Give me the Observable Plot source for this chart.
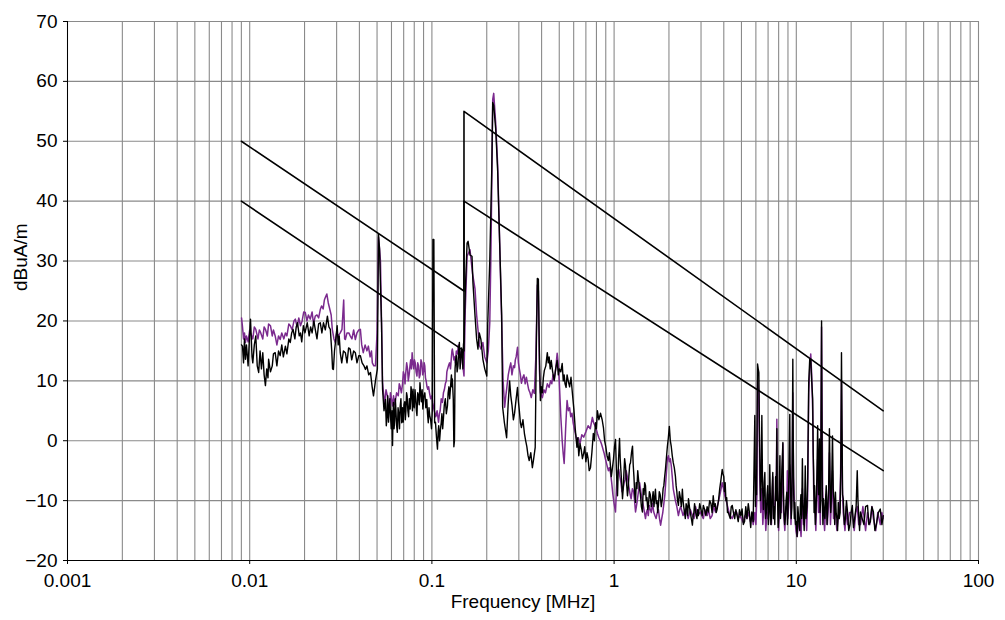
<!DOCTYPE html>
<html>
<head>
<meta charset="utf-8">
<script src="https://cdn.jsdelivr.net/npm/d3@7"></script>
<script src="https://cdn.jsdelivr.net/npm/@observablehq/plot@0.6"></script>
<style>
  html, body { margin: 0; padding: 0; background: #fff; }
  #chart { width: 1005px; height: 620px; }
</style>
</head>
<body>
<div id="chart"></div>
<script>
// Tick values
const xTicks = [0.001, 0.01, 0.1, 1, 10, 100];
const yTicks = [-20, -10, 0, 10, 20, 30, 40, 50, 60, 70];

// Limit lines [MHz, dBuA/m]
const limitUpper = [[0.009, 50], [0.15, 25], [0.15, 55], [30, 5]];
const limitLower = [[0.009, 40], [0.15, 15], [0.15, 40], [30, -5]];

// Measured trace 1 (black) [MHz, dBuA/m]
const blackTrace = [
  [0.00902,16],[0.00913,15.8],[0.00925,13],[0.00936,17],[0.00948,13.6],[0.0096,16],[0.0098,12.5],[0.0100,18],
  [0.0101,20.3],[0.0103,14],[0.0104,13],[0.0106,16],[0.0108,17.5],[0.0110,12.5],[0.0112,11.4],[0.0114,15],
  [0.0116,12],[0.0118,14.7],[0.0120,11],[0.0122,9.2],[0.0124,12],[0.0126,10.5],[0.0127,13.6],[0.0130,11.5],
  [0.0133,12.5],[0.0135,14.5],[0.0138,14.7],[0.0141,12.5],[0.0144,15],[0.0147,14.2],[0.0150,16],[0.0153,14],
  [0.0157,15.8],[0.0160,14.5],[0.0164,17],[0.0167,16.4],[0.0170,18],[0.0173,18.6],[0.0177,17],[0.0180,19],
  [0.0183,19.7],[0.0187,17.5],[0.0190,18],[0.0193,16.5],[0.0197,19.2],[0.0201,18],[0.0207,19.7],[0.0212,17.5],
  [0.0216,19],[0.0220,18],[0.0225,20],[0.0229,18.6],[0.0234,17],[0.0239,19.5],[0.0244,19.7],[0.0249,18],
  [0.0254,19.7],[0.0260,18.5],[0.0267,20.8],[0.0272,19],[0.0277,18.6],[0.0282,15],[0.0285,12],[0.0288,11.9],
  [0.0292,15],[0.0297,17],[0.0302,19.2],[0.0306,16],[0.0310,17.5],[0.0314,14.7],[0.0320,13],[0.0327,15],
  [0.0335,14.7],[0.0342,13],[0.0349,15.5],[0.0356,15.3],[0.0363,13.5],[0.0372,15],[0.0380,14.7],[0.0388,13],
  [0.0397,14.2],[0.0405,14.2],[0.0414,13],[0.0424,12.5],[0.0432,11.9],[0.0440,12.5],[0.0450,11],[0.0460,11.4],
  [0.0470,9],[0.0478,7.5],[0.0490,10],[0.0502,12],[0.0509,34.5],[0.0516,32],[0.0522,26],[0.0529,19.7],
  [0.0536,8.6],[0.0546,5],[0.0556,6.9],[0.0562,2.5],[0.0567,4],[0.0572,7.5],[0.0578,3.1],[0.0583,5.5],
  [0.0588,7],[0.0593,4],[0.0598,2],[0.0603,5],[0.0608,-0.8],[0.0611,3],[0.0615,6.4],[0.0620,2],
  [0.0625,3.5],[0.0630,7],[0.0635,5],[0.0640,2.5],[0.0646,1.4],[0.0652,5.5],[0.0658,4.5],[0.0664,2],
  [0.0670,5.8],[0.0676,7],[0.0683,3],[0.0690,5.5],[0.0696,3.1],[0.0703,6],[0.0710,6.5],[0.0715,3.5],
  [0.0720,5],[0.0726,8],[0.0731,7.5],[0.0738,5],[0.0745,4],[0.0752,7],[0.0760,5.3],[0.0768,9],
  [0.0775,8],[0.0782,5],[0.0788,8.6],[0.0794,6],[0.0800,5.5],[0.0808,8.5],[0.0815,7],[0.0822,5],
  [0.0828,4.2],[0.0836,8],[0.0845,7.5],[0.0852,6],[0.0860,9.7],[0.0868,8],[0.0875,6.5],[0.0884,8.5],
  [0.0892,5.3],[0.0903,7.5],[0.0915,8],[0.0926,5.5],[0.0937,6.9],[0.0946,4.5],[0.0955,3],[0.0964,5.5],
  [0.0973,4.2],[0.0984,3.5],[0.0995,2],[0.1005,5],[0.1013,33.6],[0.1025,33.6],[0.1035,3],[0.1046,3.1],
  [0.1060,0.5],[0.1073,-1.4],[0.1082,1.5],[0.1090,2.5],[0.1102,0],[0.1114,1.9],[0.1125,3],[0.1135,4.5],
  [0.1146,2],[0.1156,3.6],[0.1170,6],[0.1185,7],[0.1200,4.5],[0.1217,5.8],[0.1228,8],[0.1240,9],
  [0.1252,7],[0.1263,8.6],[0.1272,10],[0.1280,11],[0.1288,9],[0.1295,10.3],[0.1310,7],[0.1320,-1],
  [0.1330,0],[0.1340,12],[0.1350,13.5],[0.1362,14.2],[0.1375,11.5],[0.1390,12.5],[0.1402,15],[0.1415,16.4],
  [0.1428,12],[0.1440,13.5],[0.1455,15.5],[0.1468,14.2],[0.1480,12],[0.1490,16],[0.1500,16.9],[0.1525,25],
  [0.1560,33],[0.1580,33.3],[0.1620,31],[0.1660,30.8],[0.1680,26.4],[0.1725,20.8],[0.1760,17],[0.1790,15.3],
  [0.1820,18],[0.1858,16.9],[0.1905,13.6],[0.1950,12],[0.2001,10.8],[0.2026,19.7],[0.2078,30],[0.2130,45],
  [0.2157,56.5],[0.2184,56],[0.2240,52],[0.2296,45],[0.2355,33],[0.2415,21],[0.2445,5.6],[0.2500,3],
  [0.2571,0.5],[0.2620,6],[0.2670,10],[0.2710,7.5],[0.2750,6],[0.2800,3.5],[0.2843,4.6],[0.2900,7],
  [0.2950,8.9],[0.2985,6.5],[0.3020,5],[0.3060,3],[0.3100,2.2],[0.3160,3.5],[0.3220,1.2],[0.3270,0],
  [0.3320,-1],[0.3370,-2.5],[0.3420,-3.3],[0.3490,-2],[0.3560,-4.5],[0.3620,-3],[0.3690,-1.1],[0.374,15],
  [0.379,27.1],[0.384,27],[0.389,15],[0.394,6.7],[0.399,9],[0.404,8],[0.409,10.5],[0.414,11.7],
  [0.422,12.5],[0.430,14.7],[0.435,13],[0.440,14],[0.446,12],[0.452,13.4],[0.460,11.5],[0.469,10.1],
  [0.478,12],[0.487,13.4],[0.494,11],[0.500,12],[0.510,11.5],[0.519,12.9],[0.526,10],[0.532,11],
  [0.538,9.5],[0.545,8.9],[0.552,11],[0.560,10],[0.570,9],[0.580,10.6],[0.590,8],[0.602,5.1],
  [0.612,2],[0.625,-1.1],[0.632,0.5],[0.640,-2.5],[0.650,-0.5],[0.660,-1.5],[0.670,-3],[0.681,-2.1],
  [0.690,-1],[0.700,-3.5],[0.710,-2],[0.720,-3],[0.730,-5],[0.742,-4.5],[0.755,-2],[0.769,1.2],
  [0.780,0],[0.790,3],[0.800,2],[0.810,5],[0.825,3.5],[0.842,4.6],[0.860,3.5],[0.874,2.2],
  [0.887,0],[0.900,-1],[0.915,-2.5],[0.930,-3.3],[0.942,-2],[0.955,-4.2],[0.965,-6],[0.975,-5],
  [0.992,-3.1],[1.005,-1],[1.018,0.2],[1.030,-5],[1.044,-9.2],[1.058,-3],[1.071,0.4],[1.080,-3],
  [1.090,-5],[1.100,-7],[1.112,-9.7],[1.122,-8],[1.130,-6],[1.142,-3],[1.155,-4.2],[1.170,-7],
  [1.184,-9.2],[1.195,-8],[1.205,-6],[1.218,-4],[1.230,-3.7],[1.246,-2],[1.262,-0.9],[1.273,-4],
  [1.285,-6],[1.298,-9],[1.311,-10.3],[1.322,-7],[1.335,-8],[1.348,-5],[1.361,-6.4],[1.378,-8],
  [1.395,-9],[1.412,-11],[1.430,-11.9],[1.445,-8],[1.460,-9],[1.472,-7],[1.487,-7.5],[1.500,-10],
  [1.515,-9.5],[1.530,-11.5],[1.544,-10.8],[1.562,-8.5],[1.580,-9],[1.600,-11],[1.622,-9.7],[1.638,-8.5],
  [1.655,-11],[1.670,-9.5],[1.686,-8.1],[1.703,-10.5],[1.720,-10],[1.735,-12],[1.751,-10.8],[1.770,-8.5],
  [1.790,-9],[1.815,-11],[1.840,-9.7],[1.858,-8],[1.875,-7.5],[1.895,-6],[1.913,-4.8],[1.935,-3],
  [1.960,-1],[1.985,0.5],[2.010,2.4],[2.035,0],[2.060,-1],[2.085,-2.5],[2.113,-3.7],[2.140,-4.5],
  [2.170,-5.9],[2.190,-7.5],[2.210,-8.5],[2.230,-10],[2.254,-10.8],[2.280,-8.5],[2.310,-9.5],[2.340,-11],
  [2.370,-8.1],[2.390,-10],[2.410,-11],[2.435,-12],[2.460,-13],[2.485,-10.5],[2.510,-11],[2.535,-12.5],
  [2.560,-9.7],[2.590,-11],[2.620,-12],[2.655,-13],[2.690,-14.1],[2.715,-12.5],[2.740,-12],[2.765,-10.5],
  [2.790,-11.4],[2.820,-12.5],[2.850,-13],[2.875,-11.5],[2.900,-12.5],[2.950,-10.5],[3.000,-11.5],[3.045,-12.5],
  [3.090,-10.8],[3.140,-11.5],[3.190,-12.5],[3.240,-11],[3.290,-11.9],[3.345,-10],[3.400,-10.5],[3.450,-12],
  [3.500,-9.2],[3.545,-11],[3.590,-10.5],[3.635,-12],[3.680,-11.4],[3.740,-10],[3.800,-8],[3.860,-6.5],
  [3.920,-4.8],[3.960,-5.5],[4.000,-6],[4.035,-8.5],[4.070,-7],[4.110,-10],[4.150,-9.5],[4.190,-12],
  [4.230,-11.9],[4.285,-12.5],[4.340,-13],[4.395,-11],[4.450,-10.8],[4.520,-12],[4.590,-13],[4.660,-11.5],
  [4.730,-12.5],[4.800,-13.5],[4.880,-11.5],[4.960,-12.5],[5.040,-11.4],[5.120,-14],[5.200,-13.5],[5.280,-11],
  [5.360,-13],[5.450,-10.5],[5.530,-12],[5.620,-14.5],[5.700,-11.9],[5.800,-13.5],[5.870,-3],[5.920,4.2],
  [5.970,-11],[6.010,-6],[6.050,-9],[6.100,5],[6.130,12.8],[6.180,12],[6.230,11.4],[6.270,3],
  [6.300,-2],[6.360,-10],[6.420,-6],[6.470,4.2],[6.530,-8],[6.600,-11.5],[6.660,-7],[6.720,-5.3],
  [6.780,-13],[6.850,-12],[6.910,-9],[6.970,-7.5],[7.030,-14],[7.100,-12],[7.150,-4],[7.200,-9],
  [7.250,-14],[7.300,-13],[7.370,-8],[7.430,-5.3],[7.490,-13],[7.550,-11],[7.620,-14],[7.700,-6],
  [7.760,-10],[7.820,2],[7.860,-8],[7.900,-10],[7.950,-14.5],[8.000,-13],[8.060,-9],[8.130,-2.5],
  [8.190,-13],[8.250,-11],[8.330,-5],[8.440,-0.3],[8.500,-9],[8.560,-12],[8.630,-14],[8.700,-13],
  [8.790,-10],[8.870,-8.6],[8.940,-14],[9.000,-12],[9.100,-6],[9.210,4.4],[9.250,-4],[9.300,-8],
  [9.380,-13],[9.450,-11],[9.520,2],[9.570,13.6],[9.620,0],[9.680,-9],[9.750,-13],[9.810,-10.3],
  [9.900,-14],[10.0,-13.5],[10.10,-16],[10.20,-11],[10.28,-12.5],[10.36,-14],[10.45,-15],[10.52,-11],
  [10.60,-9],[10.70,-13],[10.80,-3],[10.87,-10],[10.95,-12],[11.05,-15],[11.20,-4.2],[11.30,-13],
  [11.45,-11],[11.55,-6],[11.70,9.7],[11.85,13.6],[12.00,13.6],[12.15,10],[12.30,7],[12.38,-2],
  [12.45,-5],[12.52,-12],[12.60,-7.5],[12.72,-14],[12.85,-11],[12.97,-6],[13.10,2.5],[13.18,-6],
  [13.25,-9],[13.33,-4],[13.40,0.3],[13.50,-12],[13.60,-10],[13.70,8],[13.76,20],[13.82,5],
  [13.90,-10],[14.00,-14],[14.10,-9.7],[14.22,-12],[14.35,-13],[14.47,-10],[14.60,-7.5],[14.75,-14],
  [14.90,-11],[15.05,-8],[15.20,2],[15.32,-6],[15.45,-12],[15.60,-9],[15.80,0.8],[15.95,-8],
  [16.10,-10],[16.25,-14],[16.40,-8.6],[16.55,-12],[16.70,-13],[16.85,-15],[17.00,-10.3],[17.20,-13],
  [17.40,-12],[17.55,-4],[17.70,14.7],[17.82,2],[17.95,-9],[18.10,-9.7],[18.35,-14],[18.60,-13],
  [18.85,-10],[19.10,-11.9],[19.40,-15],[19.70,-14],[20.00,-12],[20.30,-10.8],[20.60,-14.5],[20.90,-13],
  [21.30,-11],[21.60,-5],[21.80,-10],[22.00,-12.5],[22.25,-15],[22.50,-11.9],[23.00,-13],[23.50,-14],
  [24.00,-11],[24.60,-10.8],[25.00,-14],[25.50,-13.5],[26.00,-11],[26.50,-11.9],[27.00,-15],[27.50,-14],
  [28.20,-12],[28.90,-11.4],[29.50,-14],[30.00,-12.5]
];

// Measured trace 2 (purple) [MHz, dBuA/m]
const purpleTrace = [
  [0.00902,20.5],[0.00913,19],[0.00925,17],[0.00936,18],[0.00948,16.4],[0.0096,17.5],[0.0098,16.5],[0.0100,18.5],
  [0.0101,18],[0.0104,17],[0.0106,19],[0.0108,18.6],[0.0111,17],[0.0113,18.5],[0.0115,18],[0.0118,17],
  [0.0120,19],[0.0122,18.6],[0.0125,17.5],[0.0127,19.5],[0.0130,19.2],[0.0133,17.5],[0.0135,18.5],[0.0138,17.5],
  [0.0141,16],[0.0144,17.5],[0.0147,16.9],[0.0150,18],[0.0154,17],[0.0157,18],[0.0160,17.5],[0.0164,19.5],
  [0.0167,19.2],[0.0171,18.5],[0.0175,20],[0.0178,20.3],[0.0182,19],[0.0186,20.5],[0.0190,19.2],[0.0194,20],
  [0.0198,21.5],[0.0202,21.4],[0.0206,20],[0.0210,21],[0.0215,20.3],[0.0220,21.5],[0.0224,19.5],[0.0229,20.8],
  [0.0234,21],[0.0239,20.5],[0.0244,21.9],[0.0248,22.5],[0.0253,22],[0.0257,23.5],[0.0260,23.9],[0.0265,24.5],
  [0.0270,23],[0.0275,22],[0.0280,21],[0.0284,18.6],[0.0290,17],[0.0295,16.4],[0.0300,18],[0.0306,17.5],
  [0.0314,18],[0.0321,18.6],[0.0328,23.5],[0.0332,17],[0.0335,16.9],[0.0342,18],[0.0350,18],[0.0356,17.5],
  [0.0364,17],[0.0372,18.5],[0.0380,16.9],[0.0388,18],[0.0397,18.5],[0.0405,18.6],[0.0412,16],[0.0420,14.7],
  [0.0430,16],[0.0440,15],[0.0448,15.8],[0.0458,14],[0.0466,15],[0.0471,13],[0.0480,12.5],[0.0490,12.5],
  [0.0500,18],[0.0509,34],[0.0516,32],[0.0522,30],[0.0529,20],[0.0536,9.7],[0.0550,6],[0.0560,8.5],
  [0.0570,7.5],[0.0578,5.5],[0.0585,5],[0.0592,8],[0.0600,7],[0.0608,5.8],[0.0616,7.5],[0.0625,6],
  [0.0640,8],[0.0654,7.5],[0.0662,9.5],[0.0670,9],[0.0680,8],[0.0690,9.5],[0.0697,11.5],[0.0705,11],
  [0.0712,9.5],[0.0719,11.4],[0.0727,13],[0.0735,12],[0.0742,10],[0.0750,11],[0.0758,12.5],[0.0765,13.5],
  [0.0772,12],[0.0779,14.7],[0.0787,13],[0.0795,12],[0.0802,13.5],[0.0810,13],[0.0819,11.5],[0.0828,10.8],
  [0.0836,13],[0.0845,12.5],[0.0853,10.5],[0.0862,11],[0.0871,13.5],[0.0881,13],[0.0890,11],[0.0900,11.5],
  [0.0907,13],[0.0914,12.5],[0.0922,10.5],[0.0930,10],[0.0940,9],[0.0949,8.6],[0.0960,9],[0.0970,8],
  [0.0985,7],[0.1000,7.5],[0.1010,6.4],[0.1030,5],[0.1050,4],[0.1068,5],[0.1087,3.1],[0.1100,4.5],
  [0.1110,5],[0.1125,7],[0.1143,6.4],[0.1157,8],[0.1170,8.5],[0.1185,9.5],[0.1200,10],[0.1208,11.5],
  [0.1217,11.9],[0.1233,12.5],[0.1250,13],[0.1265,12],[0.1280,14],[0.1288,15],[0.1295,15.3],[0.1308,14.5],
  [0.1320,13.5],[0.1333,14],[0.1345,13],[0.1362,15],[0.1380,14.5],[0.1398,16],[0.1415,15.3],[0.1428,14.5],
  [0.1440,14],[0.1455,15],[0.1470,13],[0.1485,12],[0.1500,10.8],[0.1525,22],[0.1560,30.8],[0.1618,31.9],
  [0.1670,28],[0.1725,25.3],[0.1760,21],[0.1790,18.6],[0.1820,16],[0.1858,15.3],[0.1905,16.4],[0.1950,14],
  [0.2001,13],[0.2040,15],[0.2078,19.7],[0.2105,30],[0.2130,42],[0.2157,57],[0.2184,58],[0.2240,53],
  [0.2296,46],[0.2355,33],[0.2415,20],[0.2460,10],[0.2508,5.6],[0.2545,7.5],[0.2580,9],[0.2625,11],
  [0.2670,12.2],[0.2710,13],[0.2750,11],[0.2800,12.5],[0.2843,12.2],[0.2870,13.5],[0.2900,14],[0.2950,15.6],
  [0.2985,13],[0.3020,12],[0.3060,11],[0.3100,9.6],[0.3150,10.5],[0.3200,11],[0.3250,9.5],[0.3300,10.6],
  [0.3350,9.5],[0.3400,8.5],[0.3455,8],[0.3510,7.2],[0.3580,8.5],[0.3650,7.9],[0.3720,14],[0.3790,26],
  [0.3840,25],[0.3890,12],[0.3940,8],[0.3990,7.5],[0.4040,7.2],[0.4120,8.5],[0.4200,8],[0.4300,9.5],
  [0.4400,8.9],[0.4480,10],[0.4550,9.5],[0.4620,11],[0.4690,10],[0.4780,12],[0.4870,14.6],[0.4930,13],
  [0.5000,10],[0.5100,4],[0.5190,0],[0.5250,-2],[0.5320,-3.8],[0.5370,-1],[0.5420,2],[0.5470,4.5],
  [0.5520,6.7],[0.5610,5],[0.5700,5.5],[0.5780,4],[0.5870,4.6],[0.5960,3],[0.6050,2],[0.6150,1],
  [0.6250,0],[0.6370,0.5],[0.6500,-0.5],[0.6650,1],[0.6810,0.6],[0.7000,1.5],[0.7200,2.5],[0.7400,2],
  [0.7600,3.9],[0.7720,3],[0.7850,2.5],[0.7970,2],[0.8100,1.2],[0.8250,0.5],[0.8400,0],[0.8520,-0.5],
  [0.8630,-1.1],[0.8800,-2],[0.8950,-3],[0.9120,-4],[0.9300,-5],[0.9420,-4.5],[0.9550,-5.3],[0.9700,-7],
  [0.9850,-9],[1.000,-10.5],[1.018,-11.9],[1.030,-8],[1.040,-6],[1.050,-5],[1.060,-4.8],[1.075,-6],
  [1.090,-7],[1.105,-8.5],[1.120,-8.1],[1.135,-7],[1.150,-6.5],[1.165,-5],[1.180,-5.9],[1.195,-7],
  [1.210,-8],[1.225,-9],[1.240,-9.7],[1.260,-8],[1.280,-8.5],[1.295,-10],[1.311,-11.9],[1.325,-11],
  [1.340,-10],[1.360,-8.5],[1.380,-7],[1.395,-8],[1.410,-9],[1.430,-10],[1.450,-11],[1.468,-12],
  [1.487,-13],[1.503,-12],[1.520,-11.5],[1.540,-12.5],[1.560,-10.8],[1.580,-11.5],[1.600,-12],[1.625,-10.5],
  [1.650,-11.9],[1.675,-12.5],[1.700,-13],[1.725,-12],[1.751,-11.5],[1.775,-13],[1.800,-14.1],[1.825,-13],
  [1.850,-12],[1.875,-10.5],[1.900,-9],[1.930,-6],[1.960,-3.1],[1.985,-2.5],[2.010,-3.5],[2.035,-3],
  [2.060,-4.2],[2.085,-6],[2.113,-8.1],[2.140,-9],[2.170,-10],[2.210,-11],[2.254,-12.5],[2.290,-11.5],
  [2.320,-11],[2.390,-12.5],[2.460,-11.4],[2.500,-12],[2.550,-13],[2.620,-11.5],[2.690,-12.5],[2.745,-13],
  [2.800,-11],[2.880,-12.5],[2.970,-11.9],[3.030,-12.5],[3.090,-13],[3.145,-11.5],[3.200,-12],[3.245,-12.5],
  [3.290,-11.4],[3.370,-13],[3.450,-12.5],[3.520,-11],[3.600,-11.9],[3.680,-11],[3.750,-10],[3.840,-8.5],
  [3.920,-7],[3.985,-8],[4.050,-9.2],[4.120,-10],[4.200,-11],[4.320,-12.5],[4.450,-13],[4.570,-12],
  [4.700,-11.9],[4.800,-13],[4.900,-12.5],[5.000,-13],[5.100,-13.6],[5.230,-12.5],[5.360,-13],[5.480,-12],
  [5.600,-13.5],[5.700,-12.5],[5.800,-14],[5.920,-12],[6.000,-14],[6.080,-9],[6.130,10],[6.180,9],
  [6.230,8],[6.300,-6],[6.380,-12],[6.470,-8],[6.550,-14],[6.640,-11],[6.720,-10],[6.800,-15],
  [6.900,-12],[6.970,-13],[7.060,-9],[7.200,-9],[7.300,-14],[7.430,-6],[7.550,-13],[7.680,-10],
  [7.780,-5],[7.820,3.6],[7.880,-8],[8.000,-15],[8.130,-9],[8.280,-12],[8.380,-6],[8.440,-0.5],
  [8.520,-12],[8.650,-15],[8.780,-11],[8.870,-11],[8.930,-5],[8.980,-13],[9.100,-10],[9.210,-4],
  [9.350,-14],[9.480,-8],[9.570,8],[9.650,-6],[9.810,-12],[9.950,-15],[10.10,-16],[10.28,-14],
  [10.45,-13],[10.62,-16],[10.80,-8],[10.95,-14],[11.20,-10],[11.40,-15],[11.55,-9],[11.70,8],
  [11.85,12],[12.00,14.5],[12.15,11],[12.30,5],[12.45,-8],[12.60,-10],[12.80,-15],[12.95,-9],
  [13.10,-3],[13.25,-12],[13.40,-6],[13.55,-14],[13.76,19],[13.95,-8],[14.10,-12],[14.30,-15],
  [14.60,-9],[14.80,-14],[15.00,-11],[15.20,-2],[15.40,-14],[15.60,-10],[15.80,-5],[16.00,-13],
  [16.40,-12],[16.70,-15],[17.00,-13],[17.30,-11],[17.50,-6],[17.70,10],[17.90,-8],[18.10,-12],
  [18.50,-15],[18.80,-11],[19.10,-14],[19.60,-12],[20.30,-12],[20.80,-15],[21.20,-12],[21.60,-11],
  [22.00,-14],[22.50,-14],[23.20,-11],[24.00,-15],[24.60,-12],[25.30,-14],[26.00,-11],[26.50,-13],
  [27.30,-15],[28.00,-12],[28.90,-14],[29.50,-12],[30.00,-13]
];

const toRows = (arr) => arr.map(([f, v]) => ({f, v}));
const black = toRows(blackTrace);
const purple = toRows(purpleTrace);
const limits = [
  ...limitUpper.map(([f, v]) => ({f, v, name: "upper"})),
  ...limitLower.map(([f, v]) => ({f, v, name: "lower"}))
];

const gridColor = "#8a8a8a";

const chart = Plot.plot({
  width: 1005,
  height: 620,
  marginLeft: 67,
  marginRight: 27,
  marginTop: 21,
  marginBottom: 60,
  x: {type: "log", domain: [0.001, 100]},
  y: {domain: [-20, 70]},
  style: {fontFamily: "'Liberation Sans', Arial, sans-serif", fontSize: "19px", background: "#fff", color: "#000"},
  marks: [
    Plot.gridX({ticks: 45, stroke: gridColor, strokeOpacity: 1, strokeWidth: 1.1}),
    Plot.gridY(yTicks, {stroke: gridColor, strokeOpacity: 1, strokeWidth: 1.1}),
    Plot.line(purple, {x: "f", y: "v", stroke: "#7b2a8e", strokeWidth: 1.5}),
    Plot.line(black, {x: "f", y: "v", stroke: "#000", strokeWidth: 1.4}),
    Plot.line(limits, {x: "f", y: "v", z: "name", stroke: "#000", strokeWidth: 1.6}),
    Plot.ruleX([0.001], {stroke: "#000", strokeWidth: 1}),
    Plot.ruleY([-20], {stroke: "#000", strokeWidth: 1}),
    Plot.axisX(xTicks, {tickSize: 4, tickPadding: 9, tickFormat: d => String(d), label: null}),
    Plot.axisY(yTicks, {tickSize: 4, tickPadding: 6, label: null}),
    Plot.text(["Frequency [MHz]"], {frameAnchor: "bottom", dy: 47}),
    Plot.text(["dBuA/m"], {frameAnchor: "left", dx: -47, rotate: -90})
  ]
});
document.getElementById("chart").appendChild(chart);
</script>
</body>
</html>
